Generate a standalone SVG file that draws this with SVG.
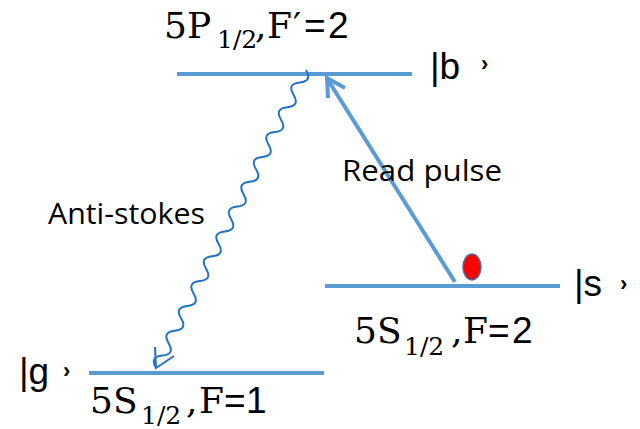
<svg xmlns="http://www.w3.org/2000/svg" width="640" height="429" viewBox="0 0 640 429">
<style>
.lvl{stroke:#5B9BD5;stroke-width:4;fill:none}
.arr{stroke:#5B9BD5;stroke-width:4;fill:none;stroke-linejoin:miter}
.wave{stroke:#2272C3;stroke-width:2;fill:none}
.ser{font-family:"DejaVu Serif","Liberation Serif",serif;font-size:36px;fill:#000}
.sub{font-size:25px}
.san{font-family:"Liberation Sans",Arial,sans-serif;font-size:37px}
.ket{font-family:"Liberation Sans",Arial,sans-serif;font-size:37px;fill:#000}
.chev{font-family:"Liberation Sans",Arial,sans-serif;font-size:22px;font-weight:bold;fill:#000}
.lab{font-family:"Open Sans","Liberation Sans",sans-serif;font-size:30px;fill:#000}
</style>
<rect width="640" height="429" fill="#fff"/>
<g id="level-b">
<line class="lvl" x1="177" y1="74" x2="412" y2="74"/>
<text class="ser"><tspan x="164" y="38">5P</tspan><tspan class="sub" x="217" y="48">1/2</tspan><tspan x="255" y="38">,</tspan><tspan x="267" y="38">F</tspan><tspan x="293" y="38">′</tspan><tspan class="san" x="304" y="38">=</tspan><tspan class="san" x="328" y="38">2</tspan></text>
<text class="ket" x="430" y="79">|b</text>
<text class="chev" x="481" y="71">›</text>
</g>
<g id="level-s">
<line class="lvl" x1="325" y1="286" x2="560" y2="286"/>
<ellipse cx="472" cy="267" rx="9" ry="13" fill="#FF0000" stroke="#41719C" stroke-width="1.5"/>
<text class="ser"><tspan x="354" y="343">5S</tspan><tspan class="sub" x="404" y="355">1/2</tspan><tspan x="451" y="343">,</tspan><tspan x="463" y="343">F</tspan><tspan class="san" x="488" y="343">=</tspan><tspan class="san" x="512" y="343">2</tspan></text>
<text class="ket" x="574" y="296">|s</text>
<text class="chev" x="620" y="291">›</text>
</g>
<g id="level-g">
<line class="lvl" x1="89" y1="373" x2="324" y2="373"/>
<text class="ser"><tspan x="90" y="413">5S</tspan><tspan class="sub" x="141" y="424">1/2</tspan><tspan x="186" y="413">,</tspan><tspan x="199" y="413">F</tspan><tspan class="san" x="224" y="413">=</tspan><tspan class="san" x="246" y="413">1</tspan></text>
<text class="ket" x="19" y="384">|g</text>
<text class="chev" x="63" y="378">›</text>
</g>
<g id="connectors">
<g id="anti-stokes">
<path class="wave" transform="translate(306,70) rotate(116.7)" d="M0,0 q6.95,-11 13.9,0 t13.9,0 t13.9,0 t13.9,0 t13.9,0 t13.9,0 t13.9,0 t13.9,0 t13.9,0 t13.9,0 t13.9,0 t13.9,0 t13.9,0 t13.9,0 t13.9,0 t13.9,0 t13.9,0 t13.9,0 t13.9,0 t13.9,0 t13.9,0 t13.9,0 t13.9,0 t13.9,0"/>
<path class="wave" d="M155,347 L156,368 L174,356"/>
<text class="lab" x="48" y="224" textLength="157" lengthAdjust="spacingAndGlyphs">Anti-stokes</text>
</g>
<g id="read-pulse">
<path class="arr" d="M455,282 L328,80"/>
<path class="arr" d="M345,88 L327,78 L328,98"/>
<text class="lab" x="342" y="181" textLength="160" lengthAdjust="spacingAndGlyphs">Read pulse</text>
</g>
</g>
</svg>
